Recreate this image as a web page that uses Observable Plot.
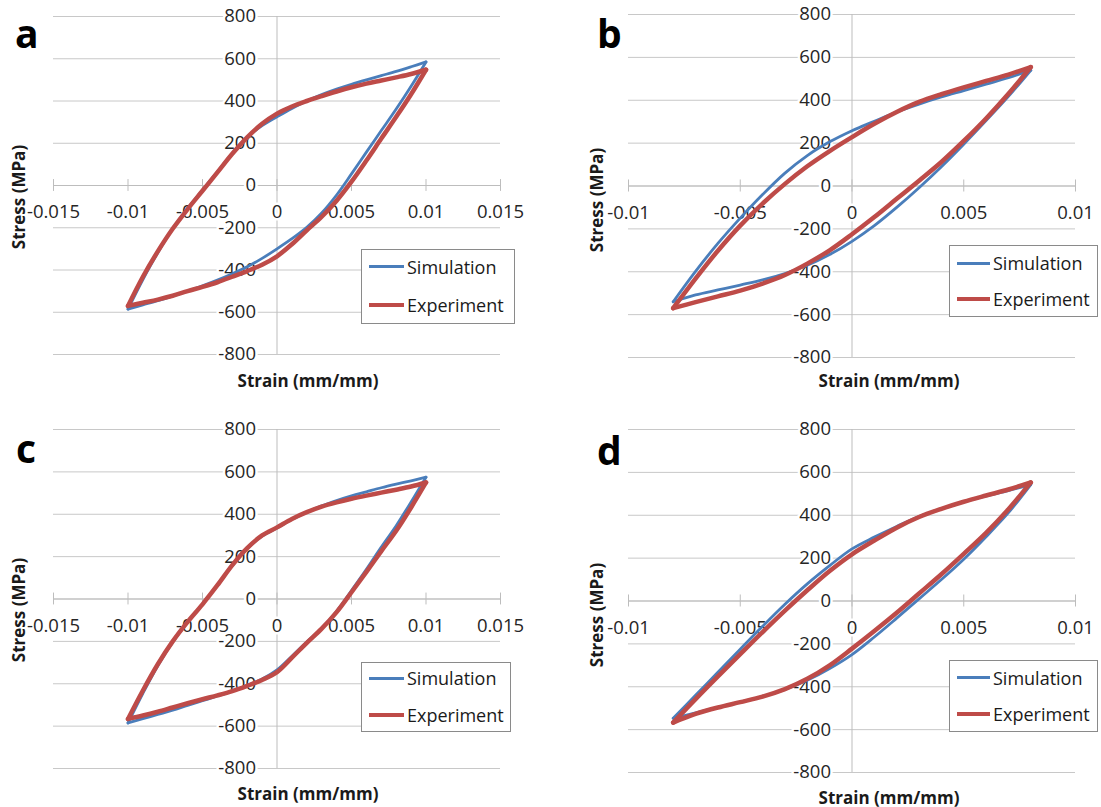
<!DOCTYPE html>
<html>
<head>
<meta charset="utf-8">
<script src="https://cdn.jsdelivr.net/npm/d3@7"></script>
<script src="https://cdn.jsdelivr.net/npm/@observablehq/plot@0.6"></script>
<style>
  body { margin: 0; background: #fff; font-family: "Open Sans", sans-serif; }
  #fig { position: relative; width: 1101px; height: 807px; overflow: hidden; background: #fff; }
  .panel { position: absolute; }
  .letter { position: absolute; font-weight: bold; font-size: 39px; line-height: 38px; color: #000; }
  .xtitle, .ytitle { position: absolute; font-weight: bold; font-size: 17px; color: #1a1a1a; white-space: nowrap; line-height: 1; }
  .xtitle { transform: translate(-50%, -50%); }
  .ytitle { transform: translate(-50%, -50%) rotate(-90deg); }
  .legend { position: absolute; border: 1px solid #8a8a8a; background: #fff; box-sizing: border-box; }
  .lrow { position: absolute; height: 24px; display: flex; align-items: center; font-size: 18px; color: #1a1a1a; white-space: nowrap; }
  .swatch { display: inline-block; margin-right: 3px; }
</style>
</head>
<body>
<div id="fig"></div>
<script>
// ---------- data ----------
const seriesNames = ["Simulation", "Experiment"];
const yTicks = [800, 600, 400, 200, 0, -200, -400, -600, -800];
const yTickLabels = ["800", "600", "400", "200", "0", "-200", "-400", "-600", "-800"];
const xTicksAC = [-0.015, -0.01, -0.005, 0, 0.005, 0.01, 0.015];
const xTickLabelsAC = ["-0.015", "-0.01", "-0.005", "0", "0.005", "0.01", "0.015"];
const xTicksBD = [-0.01, -0.005, 0, 0.005, 0.01];
const xTickLabelsBD = ["-0.01", "-0.005", "0", "0.005", "0.01"];

// strain grids (upper branch ascending; lower branch uses the same grid descending)
const strainAC = [-0.010,-0.009,-0.008,-0.007,-0.006,-0.005,-0.004,-0.003,-0.002,-0.001,0,0.001,0.002,0.003,0.004,0.005,0.006,0.007,0.008,0.009,0.010];
const strainBD = [-0.008,-0.007,-0.006,-0.005,-0.004,-0.003,-0.002,-0.001,0,0.001,0.002,0.003,0.004,0.005,0.006,0.007,0.008];

// panel a
const simUpperA = [-585,-445,-318,-205,-110,-22,65,152,228,283,325,365,400,430,456,479,500,520,540,562,585];
const simLowerA = [585,470,362,260,158,55,-45,-130,-198,-252,-300,-345,-385,-418,-448,-475,-500,-523,-545,-565,-585];
const expUpperA = [-570,-432,-312,-205,-112,-25,62,150,228,292,340,374,400,423,445,465,482,497,512,528,548];
const expLowerA = [548,432,325,222,118,18,-72,-148,-212,-278,-335,-375,-405,-432,-458,-480,-500,-522,-540,-555,-570];
// panel b
const simUpperB = [-540,-398,-268,-150,-40,60,142,206,258,302,345,382,415,445,475,505,540];
const simLowerB = [540,418,305,195,90,-8,-100,-185,-258,-320,-370,-408,-438,-462,-485,-508,-540];
const expUpperB = [-570,-432,-302,-185,-82,10,92,163,228,290,345,392,428,460,490,520,555];
const expLowerB = [555,430,315,210,112,25,-60,-145,-225,-300,-362,-415,-455,-488,-515,-542,-570];
// panel c
const simUpperC = [-585,-445,-315,-203,-108,-24,64,157,238,297,335,376,410,440,465,487,506,525,542,558,575];
const simLowerC = [575,458,346,245,140,40,-58,-138,-203,-270,-335,-378,-408,-435,-458,-480,-502,-525,-545,-565,-585];
const expUpperC = [-566,-432,-308,-200,-108,-25,65,160,240,300,338,378,410,436,456,473,488,502,516,531,550];
const expLowerC = [550,432,322,226,128,32,-62,-140,-207,-277,-345,-382,-410,-435,-455,-473,-492,-512,-532,-550,-566];
// panel d
const simUpperD = [-547,-440,-332,-225,-118,-15,80,165,243,298,348,394,430,462,490,515,543];
const simLowerD = [543,412,300,195,100,10,-80,-168,-250,-315,-370,-413,-446,-472,-497,-522,-547];
const expUpperD = [-567,-458,-352,-248,-145,-45,50,140,218,282,342,392,430,463,492,520,553];
const expLowerD = [553,428,318,220,125,35,-55,-140,-222,-300,-363,-411,-446,-472,-497,-527,-567];

// ---------- layout ----------
const colors = { Simulation: "#4a7ebb", Experiment: "#be4b48" };
const panels = [
  { letter: "a", left: 0, top: 0, width: 550, height: 400, mt: 16, mb: 46, ml: 53, mr: 50,
    xDomain: [-0.015, 0.015], xTicks: xTicksAC, xLabels: xTickLabelsAC, strain: strainAC,
    simU: simUpperA, simL: simLowerA, expU: expUpperA, expL: expLowerA,
    letterPos: [15, 14], xt: [308, 380], yt: [17.5, 197],
    legend: { left: 361, top: 249, w: 154, h: 75, rows: [17.7, 56], sx: 8, sw: 35 } },
  { letter: "b", left: 550, top: 0, width: 551, height: 400, mt: 14, mb: 43, ml: 78, mr: 26,
    xDomain: [-0.01, 0.01], xTicks: xTicksBD, xLabels: xTickLabelsBD, strain: strainBD,
    simU: simUpperB, simL: simLowerB, expU: expUpperB, expL: expLowerB,
    letterPos: [597, 14], xt: [889, 380], yt: [595.6, 200],
    legend: { left: 949, top: 245, w: 149, h: 72, rows: [18, 54], sx: 8, sw: 33 } },
  { letter: "c", left: 0, top: 400, width: 550, height: 407, mt: 29, mb: 39, ml: 53, mr: 50,
    xDomain: [-0.015, 0.015], xTicks: xTicksAC, xLabels: xTickLabelsAC, strain: strainAC,
    simU: simUpperC, simL: simLowerC, expU: expUpperC, expL: expLowerC,
    letterPos: [16, 429], xt: [308, 793], yt: [17.5, 610],
    legend: { left: 361, top: 662, w: 150, h: 70, rows: [16, 53], sx: 8, sw: 35 } },
  { letter: "d", left: 550, top: 400, width: 551, height: 407, mt: 29, mb: 35, ml: 78, mr: 26,
    xDomain: [-0.01, 0.01], xTicks: xTicksBD, xLabels: xTickLabelsBD, strain: strainBD,
    simU: simUpperD, simL: simLowerD, expU: expUpperD, expL: expLowerD,
    letterPos: [597, 431], xt: [889, 797], yt: [595.6, 615],
    legend: { left: 949, top: 660, w: 149, h: 72, rows: [17.7, 54], sx: 8, sw: 33 } }
];

const fig = document.getElementById("fig");

function branchRows(strain, stress, series, branch) {
  return strain.map((s, i) => ({ strain: s, stress: stress[i], series, branch: series + branch }));
}

panels.forEach(p => {
  const desc = p.strain.slice().reverse();
  const sim = [...branchRows(p.strain, p.simU, "Simulation", "U"), ...branchRows(desc, p.simL, "Simulation", "L")];
  const exp = [...branchRows(p.strain, p.expU, "Experiment", "U"), ...branchRows(desc, p.expL, "Experiment", "L")];

  const chart = Plot.plot({
    width: p.width, height: p.height,
    marginTop: p.mt, marginBottom: p.mb, marginLeft: p.ml, marginRight: p.mr,
    x: { domain: p.xDomain, axis: null },
    y: { domain: [-800, 800], axis: null },
    style: { fontFamily: '"Open Sans", sans-serif', fontSize: "18px", background: "white", overflow: "visible" },
    marks: [
      Plot.ruleY(yTicks, { stroke: "#c8c8c8", strokeWidth: 1 }),
      Plot.ruleX([0], { stroke: "#bdbdbd", strokeWidth: 1 }),
      Plot.ruleY([0], { stroke: "#bdbdbd", strokeWidth: 1 }),
      Plot.ruleX(p.xTicks, { x: d => d, y1: -28, y2: 28, stroke: "#bdbdbd", strokeWidth: 1 }),
      Plot.text(yTicks, { x: 0, y: d => d, text: (d, i) => yTickLabels[i], dx: -21, textAnchor: "end",
        fill: "#262626", stroke: "white", strokeWidth: 5, paintOrder: "stroke", fontSize: 18.5 }),
      Plot.text(p.xTicks, { x: d => d, y: 0, text: (d, i) => p.xLabels[i], dy: 27,
        fill: "#262626", stroke: "white", strokeWidth: 5, paintOrder: "stroke", fontSize: 18.5 }),
      Plot.line(sim, { x: "strain", y: "stress", z: "branch", stroke: colors.Simulation, strokeWidth: 2.8, curve: "catmull-rom" }),
      Plot.line(exp, { x: "strain", y: "stress", z: "branch", stroke: colors.Experiment, strokeWidth: 4.5, curve: "catmull-rom" })
    ]
  });
  const holder = document.createElement("div");
  holder.className = "panel";
  holder.style.left = p.left + "px";
  holder.style.top = p.top + "px";
  holder.appendChild(chart);
  fig.appendChild(holder);
});

// overlays: letters, axis titles, legends
panels.forEach(p => {
  const L = document.createElement("div");
  L.className = "letter";
  L.textContent = p.letter;
  L.style.left = p.letterPos[0] + "px";
  L.style.top = p.letterPos[1] + "px";
  fig.appendChild(L);

  const xt = document.createElement("div");
  xt.className = "xtitle";
  xt.textContent = "Strain (mm/mm)";
  xt.style.left = p.xt[0] + "px";
  xt.style.top = p.xt[1] + "px";
  fig.appendChild(xt);

  const yt = document.createElement("div");
  yt.className = "ytitle";
  yt.textContent = "Stress (MPa)";
  yt.style.left = p.yt[0] + "px";
  yt.style.top = p.yt[1] + "px";
  fig.appendChild(yt);

  const lg = p.legend;
  const box = document.createElement("div");
  box.className = "legend";
  box.style.left = lg.left + "px";
  box.style.top = lg.top + "px";
  box.style.width = lg.w + "px";
  box.style.height = lg.h + "px";
  seriesNames.forEach((name, i) => {
    const row = document.createElement("div");
    row.className = "lrow";
    row.style.left = (lg.sx - 1) + "px";
    row.style.top = (lg.rows[i] - 12 - 1) + "px";
    const sw = document.createElement("span");
    sw.className = "swatch";
    sw.style.width = lg.sw + "px";
    sw.style.height = (name === "Simulation" ? 3 : 3.5) + "px";
    sw.style.background = colors[name];
    const tx = document.createElement("span");
    tx.textContent = name;
    row.appendChild(sw);
    row.appendChild(tx);
    box.appendChild(row);
  });
  fig.appendChild(box);
});
</script>
</body>
</html>
